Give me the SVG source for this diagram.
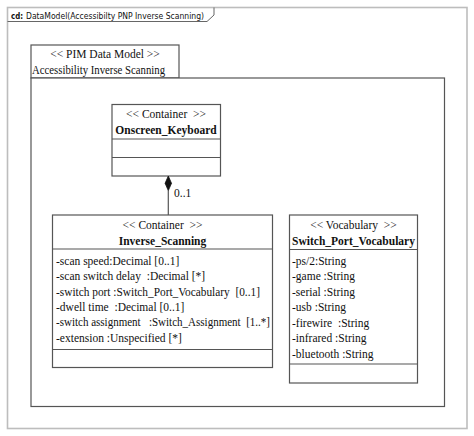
<svg xmlns="http://www.w3.org/2000/svg" width="474" height="436" viewBox="0 0 474 436">
<style>
.box{fill:#fff;stroke:#555;stroke-width:1.2}
.ln{stroke:#555;stroke-width:1.2;fill:none}
.t{font-family:"Liberation Serif","Times New Roman",serif;font-size:11.5px;fill:#111;white-space:pre}
.c{text-anchor:middle}
.b{font-weight:bold}
.f{font-family:"DejaVu Sans","Liberation Sans",sans-serif;font-size:9px;fill:#111}
</style>
<rect width="474" height="436" fill="#fff"/>
<g id="frame">
<rect x="7.5" y="7.5" width="459.5" height="421" fill="none" stroke="#bdbdbd" stroke-width="1.6"/>
<path d="M7.5 21.5 H207 L214 15 V7.5" fill="none" stroke="#666" stroke-width="1"/>
<text class="f b" x="11" y="18.5" textLength="12" lengthAdjust="spacingAndGlyphs">cd:</text>
<text class="f" x="26" y="18.5" textLength="178" lengthAdjust="spacingAndGlyphs">DataModel(Accessibilty PNP Inverse Scanning)</text>
</g>
<g id="package">
<rect class="box" x="31" y="45" width="148" height="33"/>
<rect class="box" x="31" y="78" width="413.5" height="328.5"/>
<text class="t c" x="105" y="57.5">&lt;&lt; PIM Data Model &gt;&gt;</text>
<text class="t" x="32" y="74" textLength="133" lengthAdjust="spacingAndGlyphs">Accessibility Inverse Scanning</text>
</g>
<g id="onscreen_keyboard">
<rect class="box" x="112" y="104.5" width="108.5" height="71.5"/>
<line class="ln" x1="112" y1="139" x2="220.5" y2="139"/>
<line class="ln" x1="112" y1="157.5" x2="220.5" y2="157.5"/>
<text class="t c" x="166" y="118">&lt;&lt; Container  &gt;&gt;</text>
<text class="t c b" x="166" y="134">Onscreen_Keyboard</text>
</g>
<g id="inverse_scanning">
<rect class="box" x="52.5" y="215" width="220" height="152.5"/>
<line class="ln" x1="52.5" y1="249" x2="272.5" y2="249"/>
<line class="ln" x1="52.5" y1="349.5" x2="272.5" y2="349.5"/>
<text class="t c" x="162.5" y="229">&lt;&lt; Container  &gt;&gt;</text>
<text class="t c b" x="162.5" y="245">Inverse_Scanning</text>
<text class="t" x="56" y="265">-scan speed:Decimal [0..1]</text>
<text class="t" x="56" y="280">-scan switch delay  :Decimal [*]</text>
<text class="t" x="56" y="295.5" textLength="204" lengthAdjust="spacingAndGlyphs">-switch port :Switch_Port_Vocabulary  [0..1]</text>
<text class="t" x="56" y="311">-dwell time  :Decimal [0..1]</text>
<text class="t" x="56" y="326" textLength="214" lengthAdjust="spacingAndGlyphs">-switch assignment   :Switch_Assignment  [1..*]</text>
<text class="t" x="56" y="341.5">-extension :Unspecified [*]</text>
</g>
<g id="switch_port_vocabulary">
<rect class="box" x="289.5" y="215" width="128" height="168"/>
<line class="ln" x1="289.5" y1="249.5" x2="417.5" y2="249.5"/>
<line class="ln" x1="289.5" y1="364" x2="417.5" y2="364"/>
<text class="t c" x="353.5" y="229">&lt;&lt; Vocabulary  &gt;&gt;</text>
<text class="t c b" x="353.5" y="245">Switch_Port_Vocabulary</text>
<text class="t" x="292" y="265">-ps/2:String</text>
<text class="t" x="292" y="280">-game :String</text>
<text class="t" x="292" y="295.5">-serial :String</text>
<text class="t" x="292" y="311">-usb :String</text>
<text class="t" x="292" y="326.5">-firewire  :String</text>
<text class="t" x="292" y="342">-infrared :String</text>
<text class="t" x="292" y="358">-bluetooth :String</text>
</g>
<g id="connectors">
<line class="ln" x1="168.3" y1="190.5" x2="168.3" y2="215"/>
<path d="M168.3 176 L171.5 183.3 L168.3 190.6 L165.1 183.3 Z" fill="#111" stroke="#111" stroke-width="0.8"/>
<text class="t" x="174" y="196.5">0..1</text>
</g>
</svg>
